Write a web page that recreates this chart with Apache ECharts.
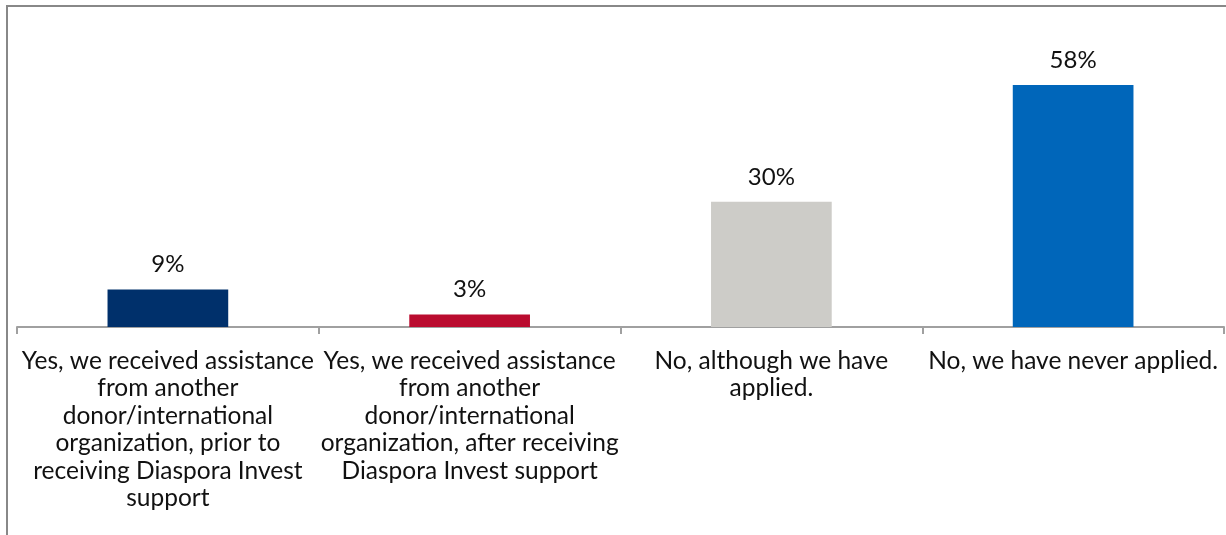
<!DOCTYPE html>
<html>
<head>
<meta charset="utf-8">
<script src="https://cdn.jsdelivr.net/npm/echarts@6/dist/echarts.min.js"></script>
<style>
  html, body { margin: 0; padding: 0; background: #fff; }
  #frame { position: absolute; left: 6px; top: 5px; width: 1230px; height: 540px;
           border-top: 2px solid #888; border-left: 2px solid #888; box-sizing: border-box; }
  #chart { position: absolute; left: 0; top: 0; width: 1226px; height: 535px; }
</style>
</head>
<body>
<div id="frame"></div>
<div id="chart"></div>
<script>
// Survey answers (category labels, with line breaks as laid out under each bar)
const categories = [
  'Yes, we received assistance\nfrom another\ndonor/international\norganization, prior to\nreceiving Diaspora Invest\nsupport',
  'Yes, we received assistance\nfrom another\ndonor/international\norganization, after receiving\nDiaspora Invest support',
  'No, although we have\napplied.',
  'No, we have never applied.'
];
// Share of respondents, percent
const values = [9, 3, 30, 58];
const barColors = ['#00306b', '#ba0c2f', '#cdccc8', '#0066ba'];

const chart = echarts.init(document.getElementById('chart'), null, { renderer: 'canvas' });
const font = "Lato, 'Open Sans', sans-serif";

chart.setOption({
  animation: false,
  grid: { left: 17, right: 2, top: 35, bottom: 208, containLabel: false },
  xAxis: {
    type: 'category',
    data: categories,
    axisLine: { show: true, lineStyle: { color: '#a0a0a0', width: 2 } },
    axisTick: { show: true, alignWithLabel: false, length: 7, lineStyle: { color: '#a0a0a0', width: 2 } },
    axisLabel: {
      interval: 0, margin: 20, color: '#111', fontFamily: font, fontSize: 24.5,
      lineHeight: 27.5, align: 'center', verticalAlign: 'top'
    }
  },
  yAxis: {
    type: 'value', min: 0, max: 70, show: false,
    splitLine: { show: false }
  },
  series: [{
    type: 'bar',
    barWidth: '40%',
    data: values.map((v, i) => ({ value: v, itemStyle: { color: barColors[i] } })),
    label: {
      show: true, position: 'top', distance: 13,
      formatter: p => p.value + '%',
      color: '#111', fontFamily: font, fontSize: 24
    }
  }]
});
</script>
</body>
</html>
